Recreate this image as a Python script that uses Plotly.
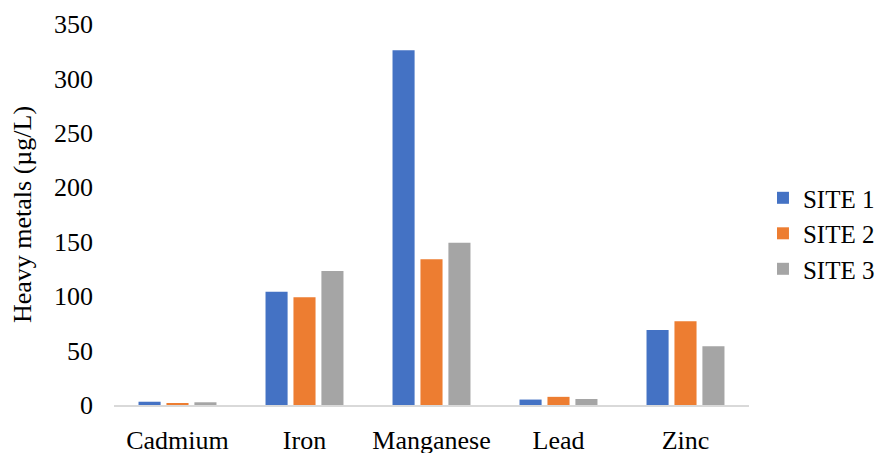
import plotly.graph_objects as go

categories = ["Cadmium", "Iron", "Manganese", "Lead", "Zinc"]
site1 = [3, 104, 326, 5, 69]
site2 = [1.5, 99, 134, 7.5, 77]
site3 = [2.5, 123, 149, 5.5, 54]
series_names = ["SITE 1", "SITE 2", "SITE 3"]
colors = ["#4472C4", "#ED7D31", "#A5A5A5"]
y_ticks = [0, 50, 100, 150, 200, 250, 300, 350]

font_family = "Liberation Serif, Times New Roman, serif"

fig = go.Figure()
for name, vals, c in zip(series_names, [site1, site2, site3], colors):
    fig.add_trace(go.Bar(x=categories, y=vals, name=name, marker_color=c,
                         marker_line_width=0, legendgroup=name))

# page body has an 8px margin, so the figure is 8px smaller and offset
fig.update_layout(
    width=880, height=445,
    margin=dict(l=106, r=139, t=16, b=48, autoexpand=False),
    paper_bgcolor="white", plot_bgcolor="white",
    barmode="group", bargap=0.34, bargroupgap=0.21,
    font=dict(family=font_family, size=26, color="black"),
    legend=dict(x=1.022, y=0.45, yanchor="middle", xanchor="left",
                font=dict(size=25), tracegroupgap=0, traceorder="grouped"),
    showlegend=True,
)
fig.update_xaxes(showgrid=False, showline=True, linecolor="#D9D9D9", linewidth=1.5,
                 ticks="", tickfont=dict(size=26), ticklabelstandoff=11, automargin=False)
fig.update_yaxes(range=[0, 350], tickvals=y_ticks, showgrid=False, zeroline=False,
                 showline=False, ticks="", tickfont=dict(size=26), automargin=False,
                 ticklabelstandoff=20,
                 title=dict(text="Heavy metals (µg/L)", font=dict(size=26), standoff=17))

fig.write_html("out.html")
